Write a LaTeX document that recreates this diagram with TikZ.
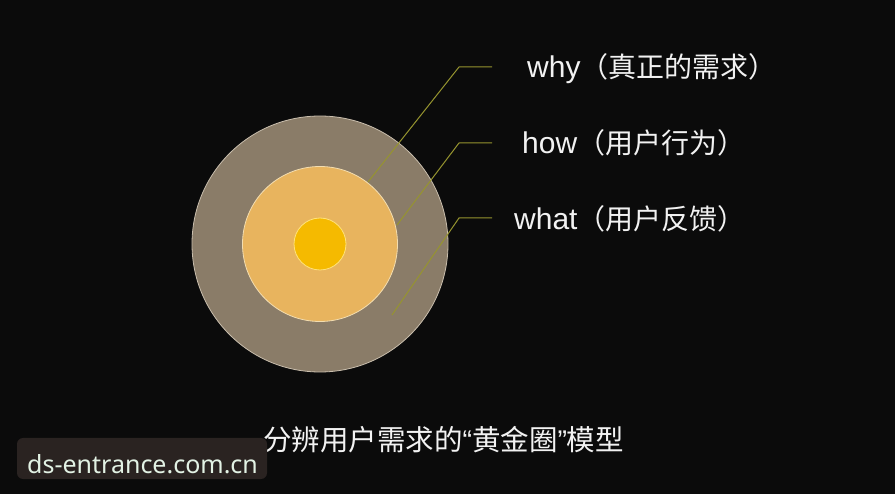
\documentclass[tikz,border=0pt]{standalone}
\usepackage{fontspec}
\setmainfont{Liberation Sans}
\newfontfamily\cjk{Noto Sans CJK SC}
\newfontfamily\wmfont{Noto Sans}
\definecolor{bg}{HTML}{0B0B0B}
\definecolor{outerring}{HTML}{8A7C68}
\definecolor{outeredge}{HTML}{C9BEAD}
\definecolor{innerring}{HTML}{E8B45E}
\definecolor{inneredge}{HTML}{F3DDB0}
\definecolor{corefill}{HTML}{F5BA00}
\definecolor{coreedge}{HTML}{FFE27A}
\definecolor{leader}{HTML}{96942F}
\definecolor{labeltext}{HTML}{F2F2F2}
\definecolor{wmbox}{HTML}{2A2321}
\definecolor{wmtext}{HTML}{E2F2E4}
\begin{document}
\begin{tikzpicture}[x=1pt,y=-1pt,
  leaderline/.style={draw=leader,line width=1pt},
  label/.style={text=labeltext,font=\fontsize{30}{30}\selectfont,anchor=west,inner sep=0pt},
  cjklab/.style={}]
\fill[bg] (0,0) rectangle (895,494);
\useasboundingbox (0,0) rectangle (895,494);
% circles
\node[circle,minimum size=256pt,fill=outerring,draw=outeredge,line width=0.8pt,inner sep=0pt] (outer) at (320,244) {};
\node[circle,minimum size=155pt,fill=innerring,draw=inneredge,line width=0.8pt,inner sep=0pt] (inner) at (320,244) {};
\node[circle,minimum size=52pt,fill=corefill,draw=coreedge,line width=0.8pt,inner sep=0pt] (core) at (320,244) {};
% leader endpoints
\coordinate (w1) at (368,182);
\coordinate (w2) at (459,67);
\coordinate (w3) at (492,67);
\coordinate (h1) at (397,225);
\coordinate (h2) at (459,143);
\coordinate (h3) at (492,143);
\coordinate (t1) at (392,315);
\coordinate (t2) at (459,218);
\coordinate (t3) at (492,218);
\draw[leaderline] (w1) -- (w2) -- (w3);
\draw[leaderline] (h1) -- (h2) -- (h3);
\draw[leaderline] (t1) -- (t2) -- (t3);
% labels
\node[label] (why) at (527,69) {why{\cjk\fontsize{28}{28}\selectfont （真正的需求）}};
\node[label] (how) at (522,143) {how{\cjk\fontsize{28}{28}\selectfont （用户行为）}};
\node[label] (what) at (514,219) {what{\cjk\fontsize{28}{28}\selectfont （用户反馈）}};
% caption
\node[text=labeltext,font=\cjk\fontsize{28.5}{28.5}\selectfont,inner sep=0pt] (caption) at (443.5,440) {分辨用户需求的{\rmfamily“}黄金圈{\rmfamily”}模型};
% watermark
\node[fill=wmbox,rounded corners=6pt,minimum width=250pt,minimum height=41pt,inner sep=0pt] (wmbg) at (142,458.5) {};
\node[text=wmtext,font=\wmfont\fontsize{25}{25}\selectfont,inner sep=0pt,anchor=base west] (wm) at (27,473) {ds-entrance.com.cn};
\end{tikzpicture}
\end{document}
